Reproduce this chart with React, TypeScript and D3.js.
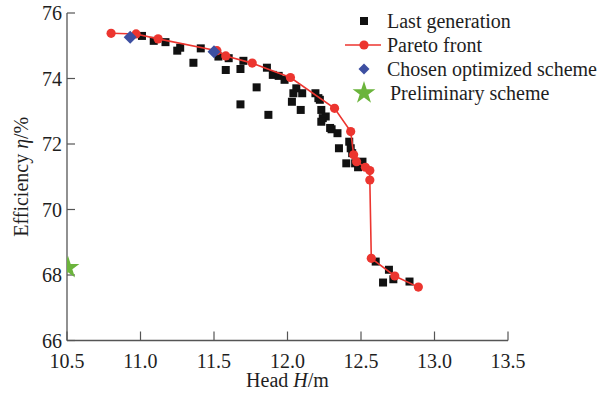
import React from 'react';
import * as d3 from 'd3';

// Last generation (head H in m, efficiency in %)
const lastGenH = [11.01, 11.09, 11.17, 11.25, 11.27, 11.36, 11.41, 11.53, 11.6, 11.58, 11.68, 11.7, 11.68, 11.79, 11.87, 11.86, 11.9, 11.94, 11.98, 12.06, 12.1, 12.19, 12.22, 12.09, 12.23, 12.26, 12.29, 12.04, 12.03, 12.21, 12.24, 12.23, 12.3, 12.34, 12.35, 12.42, 12.43, 12.44, 12.4, 12.46, 12.48, 12.51, 12.6, 12.69, 12.72, 12.65, 12.83];
const lastGenEta = [75.3, 75.15, 75.11, 74.85, 74.94, 74.48, 74.92, 74.67, 74.62, 74.26, 74.29, 74.54, 73.21, 73.73, 72.89, 74.33, 74.11, 74.08, 73.96, 73.7, 73.55, 73.55, 73.35, 73.04, 73.04, 72.84, 72.49, 73.55, 73.29, 73.4, 72.79, 72.68, 72.45, 72.33, 71.87, 72.07, 71.87, 71.72, 71.41, 71.41, 71.29, 71.46, 68.41, 68.16, 67.87, 67.77, 67.8];

// Pareto front
const paretoH = [10.8, 10.97, 11.12, 11.52, 11.58, 11.76, 12.02, 12.32, 12.43, 12.45, 12.47, 12.53, 12.56, 12.56, 12.57, 12.73, 12.89];
const paretoEta = [75.38, 75.36, 75.21, 74.85, 74.69, 74.47, 74.03, 73.09, 72.38, 71.67, 71.46, 71.29, 71.19, 70.9, 68.51, 67.97, 67.63];

// Chosen optimized scheme
const chosenH = [10.93, 11.5];
const chosenEta = [75.26, 74.82];

// Preliminary scheme
const prelimH = [10.5];
const prelimEta = [68.22];

const xTicks = [10.5, 11.0, 11.5, 12.0, 12.5, 13.0, 13.5];
const yTicks = [66, 68, 70, 72, 74, 76];

const legendItems = ['Last generation', 'Pareto front', 'Chosen optimized scheme', 'Preliminary scheme'];

const W = 612;
const H = 396;
const font = '"Liberation Serif", "Times New Roman", serif';

export default function App() {
  const x = d3.scaleLinear().domain([10.5, 13.5]).range([67, 508]);
  const y = d3.scaleLinear().domain([66, 76]).range([340.5, 13]);

  const pareto = paretoH.map((h, i) => [h, paretoEta[i]] as [number, number]);
  const line = d3.line<[number, number]>().x(d => x(d[0])).y(d => y(d[1]));

  const red = '#ec352f';
  const blue = '#3d4fa1';
  const green = '#6bb43c';
  const axisColor = '#555';
  const textColor = '#1e1e1e';

  // square turned 45 degrees
  const diamond = 'M0,-6.5L6.5,0L0,6.5L-6.5,0Z';
  const star = d3.symbol().type(d3.symbolStar).size(160)()!;
  const sq = 8;

  const legX = 364;
  const legY = [21, 45, 69, 93];

  return (
    <svg width={W} height={H} style={{ position: 'absolute', left: 0, top: 0, background: '#fff' }} fontFamily={font}>
      <defs>
        <clipPath id="plot">
          <rect x={x(10.5)} y={0} width={x(13.5) - x(10.5) + 20} height={y(66)} />
        </clipPath>
      </defs>

      {/* axes */}
      <line x1={x(10.5)} x2={x(10.5)} y1={y(76)} y2={y(66)} stroke={axisColor} strokeWidth={1.3} />
      <line x1={x(10.5)} x2={x(13.5)} y1={y(66)} y2={y(66)} stroke={axisColor} strokeWidth={1.3} />
      {yTicks.map(t => (
        <g key={'y' + t}>
          <line x1={x(10.5)} x2={x(10.5) + 8} y1={y(t)} y2={y(t)} stroke={axisColor} strokeWidth={1.2} />
          <text x={x(10.5) - 5} y={y(t)} dy="0.35em" textAnchor="end" fontSize={20} fill={textColor}>{t}</text>
        </g>
      ))}
      {xTicks.map(t => (
        <g key={'x' + t}>
          <line x1={x(t)} x2={x(t)} y1={y(66)} y2={y(66) - 9} stroke={axisColor} strokeWidth={1.2} />
          <text x={x(t)} y={y(66) + 27} textAnchor="middle" fontSize={20} fill={textColor}>{t.toFixed(1)}</text>
        </g>
      ))}
      <text x={x(12.0)} y={387} textAnchor="middle" fontSize={20} fill={textColor}>
        Head <tspan fontStyle="italic">H</tspan>/m
      </text>
      <text transform={`translate(28,${(y(66) + y(76)) / 2}) rotate(-90)`} textAnchor="middle" fontSize={20} fill={textColor}>
        Efficiency <tspan fontStyle="italic">η</tspan>/%
      </text>

      <g clipPath="url(#plot)">
        {/* last generation */}
        {lastGenH.map((h, i) => (
          <rect key={'g' + i} x={x(h) - sq / 2} y={y(lastGenEta[i]) - sq / 2} width={sq} height={sq} fill="#111" />
        ))}
        {/* pareto front */}
        <path d={line(pareto)!} fill="none" stroke={red} strokeWidth={1.6} />
        {pareto.map((p, i) => (
          <circle key={'p' + i} cx={x(p[0])} cy={y(p[1])} r={4.6} fill={red} />
        ))}
        {/* chosen */}
        {chosenH.map((h, i) => (
          <path key={'c' + i} d={diamond} transform={`translate(${x(h)},${y(chosenEta[i])})`} fill={blue} />
        ))}
        {/* preliminary */}
        {prelimH.map((h, i) => (
          <path key={'s' + i} d={star} transform={`translate(${x(h) + 1},${y(prelimEta[i])})`} fill={green} />
        ))}
      </g>

      {/* legend */}
      <rect x={legX - 4} y={legY[0] - 4} width={8} height={8} fill="#111" />
      <line x1={legX - 19} x2={legX + 17} y1={legY[1]} y2={legY[1]} stroke={red} strokeWidth={1.6} />
      <circle cx={legX} cy={legY[1]} r={4.6} fill={red} />
      <path d={diamond} transform={`translate(${legX},${legY[2]}) scale(0.85)`} fill={blue} />
      <path d={star} transform={`translate(${legX},${legY[3]})`} fill={green} />
      {legendItems.map((s, i) => (
        <text key={s} x={i === 3 ? legX + 26 : legX + 23} y={legY[i]} dy="0.33em" fontSize={20} fill={textColor}>{s}</text>
      ))}
    </svg>
  );
}
